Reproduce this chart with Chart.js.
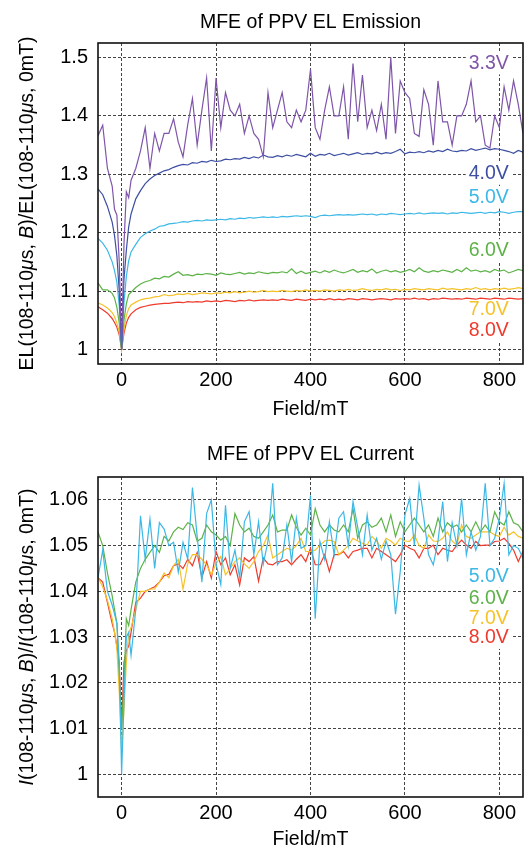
<!DOCTYPE html>
<html>
<head>
<meta charset="utf-8">
<script src="https://cdn.jsdelivr.net/npm/chart.js@4.4.1/dist/chart.umd.min.js"></script>
<style>
  body { margin: 0; background: #fff; }
  canvas { display: block; }
</style>
</head>
<body>
<canvas id="emissionChart" width="526" height="425"></canvas>
<canvas id="currentChart" width="526" height="424"></canvas>
<script>
const FONT = "'Liberation Sans', Arial, Helvetica, sans-serif";

// magnetic field (mT), shared by every series
const fields = [-50, -40, -30, -20, -15, -10, -5, 0, 5, 10, 15,
  20, 30, 40, 50, 60, 70, 80, 90, 100, 110,
  120, 130, 140, 150, 160, 170, 180, 190, 200, 210,
  220, 230, 240, 250, 260, 270, 280, 290, 300, 310,
  320, 330, 340, 350, 360, 370, 380, 390, 400, 410,
  420, 430, 440, 450, 460, 470, 480, 490, 500, 510,
  520, 530, 540, 550, 560, 570, 580, 590, 600, 610,
  620, 630, 640, 650, 660, 670, 680, 690, 700, 710,
  720, 730, 740, 750, 760, 770, 780, 790, 800, 810,
  820, 830, 840, 850];
const fieldTicks = [0, 200, 400, 600, 800];

// ---- EL emission ----
const emissionNames = ['3.3V', '4.0V', '5.0V', '6.0V', '7.0V', '8.0V'];
const emissionColors = ['#7f55aa', '#3d4fa2', '#3bb8e6', '#5cb247', '#f6c22a', '#ee3b2d'];
const em33 = [1.366, 1.384, 1.31, 1.28, 1.24, 1.23, 1.15, 1.0, 1.18, 1.27, 1.26,
  1.29, 1.31, 1.34, 1.38, 1.31, 1.37, 1.34, 1.37, 1.37, 1.395,
  1.355, 1.33, 1.385, 1.43, 1.35, 1.41, 1.465, 1.34, 1.465, 1.38,
  1.44, 1.41, 1.40, 1.42, 1.37, 1.40, 1.37, 1.36, 1.33, 1.44,
  1.38, 1.41, 1.44, 1.39, 1.38, 1.41, 1.39, 1.41, 1.48, 1.38,
  1.36, 1.41, 1.45, 1.40, 1.40, 1.45, 1.36, 1.49, 1.39, 1.47,
  1.38, 1.41, 1.375, 1.42, 1.36, 1.50, 1.37, 1.46, 1.44, 1.43,
  1.37, 1.365, 1.445, 1.42, 1.35, 1.46, 1.39, 1.39, 1.35, 1.40,
  1.40, 1.42, 1.46, 1.39, 1.40, 1.35, 1.345, 1.40, 1.38, 1.45,
  1.41, 1.46, 1.42, 1.37];
const em40 = [1.275, 1.265, 1.245, 1.218, 1.195, 1.16, 1.10, 1.0, 1.12, 1.17, 1.21,
  1.232, 1.258, 1.272, 1.284, 1.292, 1.298, 1.302, 1.306, 1.308, 1.312,
  1.315, 1.317, 1.316, 1.320, 1.319, 1.322, 1.321, 1.324, 1.322, 1.323,
  1.326, 1.325, 1.327, 1.326, 1.329, 1.327, 1.330, 1.328, 1.333, 1.330,
  1.329, 1.332, 1.330, 1.333, 1.331, 1.334, 1.332, 1.330, 1.336, 1.331,
  1.334, 1.333, 1.336, 1.332, 1.334, 1.336, 1.333, 1.335, 1.337, 1.334,
  1.336, 1.335, 1.338, 1.335, 1.337, 1.336, 1.339, 1.343, 1.335, 1.338,
  1.337, 1.339, 1.337, 1.340, 1.338, 1.341, 1.339, 1.343, 1.340, 1.339,
  1.341, 1.340, 1.344, 1.341, 1.343, 1.345, 1.342, 1.344, 1.343, 1.341,
  1.339, 1.336, 1.341, 1.338];
const em50 = [1.19, 1.182, 1.17, 1.15, 1.135, 1.115, 1.075, 1.0, 1.08, 1.125, 1.152,
  1.167, 1.18, 1.192, 1.198, 1.203, 1.206, 1.211, 1.212, 1.215, 1.216,
  1.217, 1.219, 1.218, 1.220, 1.221, 1.220, 1.222, 1.221, 1.222, 1.223,
  1.222, 1.224, 1.223, 1.225, 1.224, 1.226, 1.225, 1.226, 1.227, 1.226,
  1.227, 1.226, 1.228, 1.227, 1.228, 1.229, 1.228, 1.229, 1.228, 1.226,
  1.229, 1.230, 1.229, 1.230, 1.231, 1.230, 1.231, 1.230, 1.231, 1.232,
  1.231, 1.232, 1.230, 1.232, 1.231, 1.233, 1.232, 1.231, 1.232, 1.233,
  1.232, 1.234, 1.232, 1.233, 1.234, 1.233, 1.234, 1.232, 1.234, 1.233,
  1.235, 1.234, 1.233, 1.234, 1.235, 1.233, 1.235, 1.234, 1.236, 1.235,
  1.233, 1.235, 1.236, 1.236];
const em60 = [1.114, 1.102, 1.102, 1.096, 1.088, 1.072, 1.045, 1.0, 1.05, 1.078, 1.094,
  1.098, 1.106, 1.112, 1.116, 1.118, 1.122, 1.121, 1.125, 1.124, 1.129,
  1.133, 1.127, 1.128, 1.126, 1.129, 1.128, 1.130, 1.129, 1.127, 1.131,
  1.129, 1.128, 1.130, 1.132, 1.129, 1.131, 1.130, 1.133, 1.131, 1.130,
  1.132, 1.131, 1.133, 1.131, 1.138, 1.130, 1.134, 1.130, 1.132, 1.134,
  1.131, 1.135, 1.132, 1.136, 1.133, 1.131, 1.134, 1.137, 1.132, 1.135,
  1.133, 1.138, 1.131, 1.134, 1.136, 1.133, 1.135, 1.132, 1.134, 1.137,
  1.133, 1.140, 1.134, 1.132, 1.135, 1.133, 1.136, 1.134, 1.132, 1.137,
  1.133, 1.140, 1.134, 1.136, 1.133, 1.135, 1.132, 1.137, 1.134, 1.136,
  1.131, 1.134, 1.137, 1.135];
const em70 = [1.08, 1.076, 1.071, 1.063, 1.056, 1.045, 1.03, 1.0, 1.035, 1.058, 1.07,
  1.076, 1.081, 1.085, 1.087, 1.088, 1.090, 1.091, 1.094, 1.092, 1.093,
  1.095, 1.094, 1.096, 1.094, 1.095, 1.097, 1.096, 1.095, 1.097, 1.096,
  1.098, 1.097, 1.099, 1.097, 1.098, 1.100, 1.098, 1.099, 1.101, 1.099,
  1.100, 1.099, 1.101, 1.100, 1.099, 1.101, 1.100, 1.102, 1.100, 1.101,
  1.100, 1.102, 1.101, 1.100, 1.102, 1.101, 1.103, 1.101, 1.102, 1.104,
  1.102, 1.101, 1.103, 1.102, 1.104, 1.102, 1.103, 1.101, 1.103, 1.102,
  1.104, 1.103, 1.102, 1.104, 1.103, 1.102, 1.105, 1.103, 1.104, 1.103,
  1.102, 1.104, 1.103, 1.106, 1.103, 1.104, 1.102, 1.104, 1.103, 1.105,
  1.103, 1.104, 1.106, 1.104];
const em80 = [1.073, 1.068, 1.062, 1.053, 1.046, 1.038, 1.025, 1.0, 1.028, 1.045, 1.055,
  1.061, 1.068, 1.072, 1.074, 1.076, 1.077, 1.078, 1.079, 1.079, 1.080,
  1.081, 1.080, 1.082, 1.081, 1.082, 1.081, 1.083, 1.082, 1.083, 1.082,
  1.084, 1.083, 1.082, 1.084, 1.083, 1.085, 1.083, 1.084, 1.085, 1.084,
  1.085, 1.084, 1.086, 1.085, 1.084, 1.086, 1.085, 1.084, 1.086, 1.085,
  1.086, 1.085, 1.087, 1.085, 1.086, 1.085, 1.087, 1.086, 1.085, 1.087,
  1.086, 1.085, 1.086, 1.087, 1.086, 1.085, 1.087, 1.086, 1.087, 1.086,
  1.088, 1.086, 1.087, 1.085, 1.087, 1.086, 1.088, 1.087, 1.086, 1.087,
  1.086, 1.088, 1.087, 1.086, 1.088, 1.087, 1.086, 1.088, 1.087, 1.086,
  1.088, 1.087, 1.086, 1.087];
const emissionLabelY = [1.490, 1.301, 1.260, 1.170, 1.0675, 1.033];
const emissionTicks = [1, 1.1, 1.2, 1.3, 1.4, 1.5];

// ---- EL current ----
const currentNames = ['5.0V', '6.0V', '7.0V', '8.0V'];
const currentColors = ['#3bb8e6', '#5cb247', '#f6c22a', '#ee3b2d'];
const cur50 = [1.043, 1.049, 1.040, 1.037, 1.035, 1.033, 1.0245, 1.000, 1.016, 1.030, 1.031,
  1.026, 1.036, 1.0565, 1.047, 1.0558, 1.045, 1.055, 1.0536, 1.050, 1.0507,
  1.0442, 1.0507, 1.047, 1.0627, 1.052, 1.042, 1.057, 1.060, 1.046, 1.0415,
  1.0588, 1.045, 1.049, 1.043, 1.0552, 1.0574, 1.048, 1.0552, 1.046, 1.051,
  1.0636, 1.0458, 1.0473, 1.0545, 1.0465, 1.056, 1.0494, 1.050, 1.061, 1.034,
  1.0509, 1.047, 1.0552, 1.048, 1.056, 1.0574, 1.050, 1.0596, 1.054, 1.048,
  1.0567, 1.049, 1.0516, 1.047, 1.051, 1.048, 1.035, 1.0443, 1.0567, 1.0603,
  1.050, 1.0632, 1.056, 1.048, 1.0458, 1.051, 1.0596, 1.0465, 1.055, 1.050,
  1.0603, 1.048, 1.053, 1.049, 1.052, 1.0636, 1.050, 1.0516, 1.056, 1.0636,
  1.048, 1.050, 1.0494, 1.0473];
const cur60 = [1.053, 1.050, 1.044, 1.039, 1.036, 1.033, 1.022, 1.010, 1.020, 1.034, 1.0325,
  1.036, 1.042, 1.045, 1.047, 1.0485, 1.050, 1.0485, 1.052, 1.051, 1.053,
  1.054, 1.0535, 1.055, 1.0545, 1.051, 1.0516, 1.0545, 1.053, 1.0523, 1.0512,
  1.052, 1.050, 1.057, 1.0545, 1.053, 1.0538, 1.052, 1.0516, 1.053, 1.0545,
  1.0567, 1.053, 1.0534, 1.0534, 1.0567, 1.054, 1.0523, 1.0538, 1.0523, 1.0581,
  1.0545, 1.053, 1.0545, 1.0534, 1.053, 1.0545, 1.053, 1.0581, 1.0516, 1.0545,
  1.0552, 1.054, 1.0545, 1.056, 1.053, 1.0567, 1.052, 1.0552, 1.053, 1.0545,
  1.056, 1.0545, 1.053, 1.0545, 1.052, 1.056, 1.053, 1.055, 1.054, 1.0545,
  1.053, 1.0545, 1.053, 1.0552, 1.053, 1.0545, 1.053, 1.0574, 1.0552, 1.0545,
  1.0574, 1.055, 1.0545, 1.053];
const cur70 = [1.043, 1.041, 1.038, 1.034, 1.031, 1.0275, 1.018, 1.005, 1.014, 1.0245, 1.031,
  1.032, 1.036, 1.040, 1.040, 1.0405, 1.0405, 1.042, 1.044, 1.043, 1.0456,
  1.047, 1.0405, 1.046, 1.048, 1.048, 1.047, 1.0458, 1.0436, 1.046, 1.0476,
  1.0436, 1.045, 1.0465, 1.0473, 1.046, 1.045, 1.0465, 1.0487, 1.050, 1.0523,
  1.0473, 1.048, 1.0487, 1.0494, 1.049, 1.050, 1.0516, 1.0487, 1.0487, 1.049,
  1.0501, 1.051, 1.0512, 1.0509, 1.048, 1.049, 1.050, 1.0516, 1.051, 1.0505,
  1.0501, 1.052, 1.051, 1.0494, 1.0516, 1.051, 1.0501, 1.0516, 1.051, 1.0509,
  1.0523, 1.050, 1.0494, 1.0523, 1.051, 1.0509, 1.0516, 1.053, 1.051, 1.0501,
  1.0545, 1.052, 1.0516, 1.0523, 1.053, 1.053, 1.053, 1.0523, 1.052, 1.054,
  1.0523, 1.053, 1.052, 1.0516];
const cur80 = [1.043, 1.042, 1.0375, 1.033, 1.031, 1.028, 1.024, 1.010, 1.0245, 1.027, 1.028,
  1.031, 1.0376, 1.0385, 1.040, 1.0405, 1.041, 1.042, 1.0434, 1.0437, 1.0456,
  1.046, 1.045, 1.047, 1.0456, 1.0485, 1.043, 1.0465, 1.0429, 1.0487, 1.0458,
  1.0473, 1.0436, 1.0458, 1.0414, 1.0473, 1.0465, 1.0476, 1.0422, 1.0473, 1.046,
  1.0458, 1.0465, 1.0465, 1.0469, 1.0458, 1.047, 1.048, 1.0465, 1.0494, 1.0458,
  1.0458, 1.048, 1.0443, 1.048, 1.048, 1.0487, 1.0473, 1.0487, 1.049, 1.0494,
  1.0494, 1.0473, 1.0494, 1.0487, 1.048, 1.0473, 1.0465, 1.048, 1.0501, 1.0494,
  1.049, 1.0473, 1.0494, 1.0494, 1.0501, 1.048, 1.0494, 1.049, 1.0487, 1.0501,
  1.0512, 1.0501, 1.0494, 1.0509, 1.050, 1.0501, 1.0501, 1.0509, 1.051, 1.0516,
  1.0505, 1.049, 1.0465, 1.0487];
const currentLabelY = [1.0432, 1.0384, 1.034, 1.0298];
const currentTicks = [1, 1.01, 1.02, 1.03, 1.04, 1.05, 1.06];

const labelField = 820;

// y-axis titles: [text, italic]
const emissionYTitle = [['EL(108-110', false], ['\u03bc', true], ['s, ', false], ['B', true],
  [')/EL(108-110', false], ['\u03bc', true], ['s, 0mT)', false]];
const currentYTitle = [['I', true], ['(108-110', false], ['\u03bc', true], ['s, ', false], ['B', true],
  [')/', false], ['I', true], ['(108-110', false], ['\u03bc', true], ['s, 0mT)', false]];

function decor(o) {
  return {
    id: 'decor',
    beforeDatasetsDraw(chart) {
      // white key boxes, hide the grid behind the labels
      const { ctx, scales: { x, y } } = chart;
      ctx.save();
      ctx.font = '19.5px ' + FONT;
      ctx.fillStyle = '#fff';
      o.names.forEach((n, i) => {
        const w = ctx.measureText(n).width;
        const px = x.getPixelForValue(labelField);
        const py = y.getPixelForValue(o.labelY[i]);
        ctx.fillRect(px - w - 3, py - 11, w + 6, 22);
      });
      ctx.restore();
    },
    afterDatasetsDraw(chart) {
      const { ctx, chartArea: a, scales: { x, y } } = chart;
      ctx.save();
      ctx.strokeStyle = '#111';
      ctx.lineWidth = 1.6;
      ctx.strokeRect(a.left, a.top, a.right - a.left, a.bottom - a.top);
      ctx.font = '19.5px ' + FONT;
      ctx.textAlign = 'right';
      ctx.textBaseline = 'middle';
      o.names.forEach((n, i) => {
        ctx.fillStyle = o.colors[i];
        ctx.fillText(n, x.getPixelForValue(labelField), y.getPixelForValue(o.labelY[i]));
      });
      ctx.restore();
    },
    afterDraw(chart) {
      const { ctx, chartArea: a } = chart;
      const cx = (a.left + a.right) / 2;
      ctx.save();
      ctx.fillStyle = '#000';
      ctx.textAlign = 'center';
      ctx.textBaseline = 'alphabetic';
      ctx.font = '19.5px ' + FONT;
      ctx.fillText(o.title, cx, a.top - o.titleGap);
      ctx.fillText('Field/mT', cx, a.bottom + o.xTitleGap);

      // rotated y title with italic parts
      ctx.translate(33, (a.top + a.bottom) / 2);
      ctx.rotate(-Math.PI / 2);
      ctx.textAlign = 'left';
      let total = 0;
      o.yTitle.forEach(p => {
        ctx.font = (p[1] ? 'italic ' : '') + '19.5px ' + FONT;
        total += ctx.measureText(p[0]).width;
      });
      let tx = -total / 2;
      o.yTitle.forEach(p => {
        ctx.font = (p[1] ? 'italic ' : '') + '19.5px ' + FONT;
        ctx.fillText(p[0], tx, 0);
        tx += ctx.measureText(p[0]).width;
      });
      ctx.restore();
    }
  };
}

function makeChart(id, o) {
  const ctx = document.getElementById(id).getContext('2d');
  const gridOpts = { color: '#444', lineWidth: 1, drawTicks: false };
  return new Chart(ctx, {
    type: 'line',
    data: {
      datasets: o.series.map((s, i) => ({
        label: o.names[i],
        data: fields.map((f, j) => ({ x: f, y: s[j] })),
        borderColor: o.colors[i],
        backgroundColor: o.colors[i],
        borderWidth: 1.2,
        pointRadius: 0,
        tension: 0,
        fill: false
      }))
    },
    options: {
      responsive: false,
      animation: false,
      events: [],
      layout: { padding: { top: o.top, right: 3, left: 0, bottom: 0 } },
      plugins: {
        legend: { display: false },
        tooltip: { enabled: false },
        title: { display: false }
      },
      scales: {
        x: {
          type: 'linear',
          min: -50,
          max: 850,
          afterBuildTicks: sc => { sc.ticks = fieldTicks.map(v => ({ value: v })); },
          afterFit: sc => { sc.height = o.xAxisHeight; },
          grid: gridOpts,
          border: { display: false, dash: [3, 2] },
          ticks: {
            autoSkip: false,
            maxRotation: 0,
            padding: 4,
            color: '#000',
            font: { family: FONT, size: 20 },
            callback: v => String(v)
          }
        },
        y: {
          type: 'linear',
          min: o.yMin,
          max: o.yMax,
          afterBuildTicks: sc => { sc.ticks = o.yTicks.map(v => ({ value: v })); },
          afterFit: sc => { sc.width = 98; },
          grid: gridOpts,
          border: { display: false, dash: [3, 2] },
          ticks: {
            autoSkip: false,
            padding: 10,
            color: '#000',
            font: { family: FONT, size: 20 },
            callback: v => String(v)
          }
        }
      }
    },
    plugins: [decor(o)]
  });
}

const emissionChart = makeChart('emissionChart', {
  series: [em33, em40, em50, em60, em70, em80],
  names: emissionNames,
  colors: emissionColors,
  labelY: emissionLabelY,
  yTicks: emissionTicks,
  yMin: 0.975,
  yMax: 1.525,
  top: 43,
  xAxisHeight: 61,
  title: 'MFE of PPV EL Emission',
  titleGap: 15,
  xTitleGap: 51,
  yTitle: emissionYTitle
});

const currentChart = makeChart('currentChart', {
  series: [cur50, cur60, cur70, cur80],
  names: currentNames,
  colors: currentColors,
  labelY: currentLabelY,
  yTicks: currentTicks,
  yMin: 0.995,
  yMax: 1.065,
  top: 52,
  xAxisHeight: 52,
  title: 'MFE of PPV EL Current',
  titleGap: 17,
  xTitleGap: 48,
  yTitle: currentYTitle
});
</script>
</body>
</html>
